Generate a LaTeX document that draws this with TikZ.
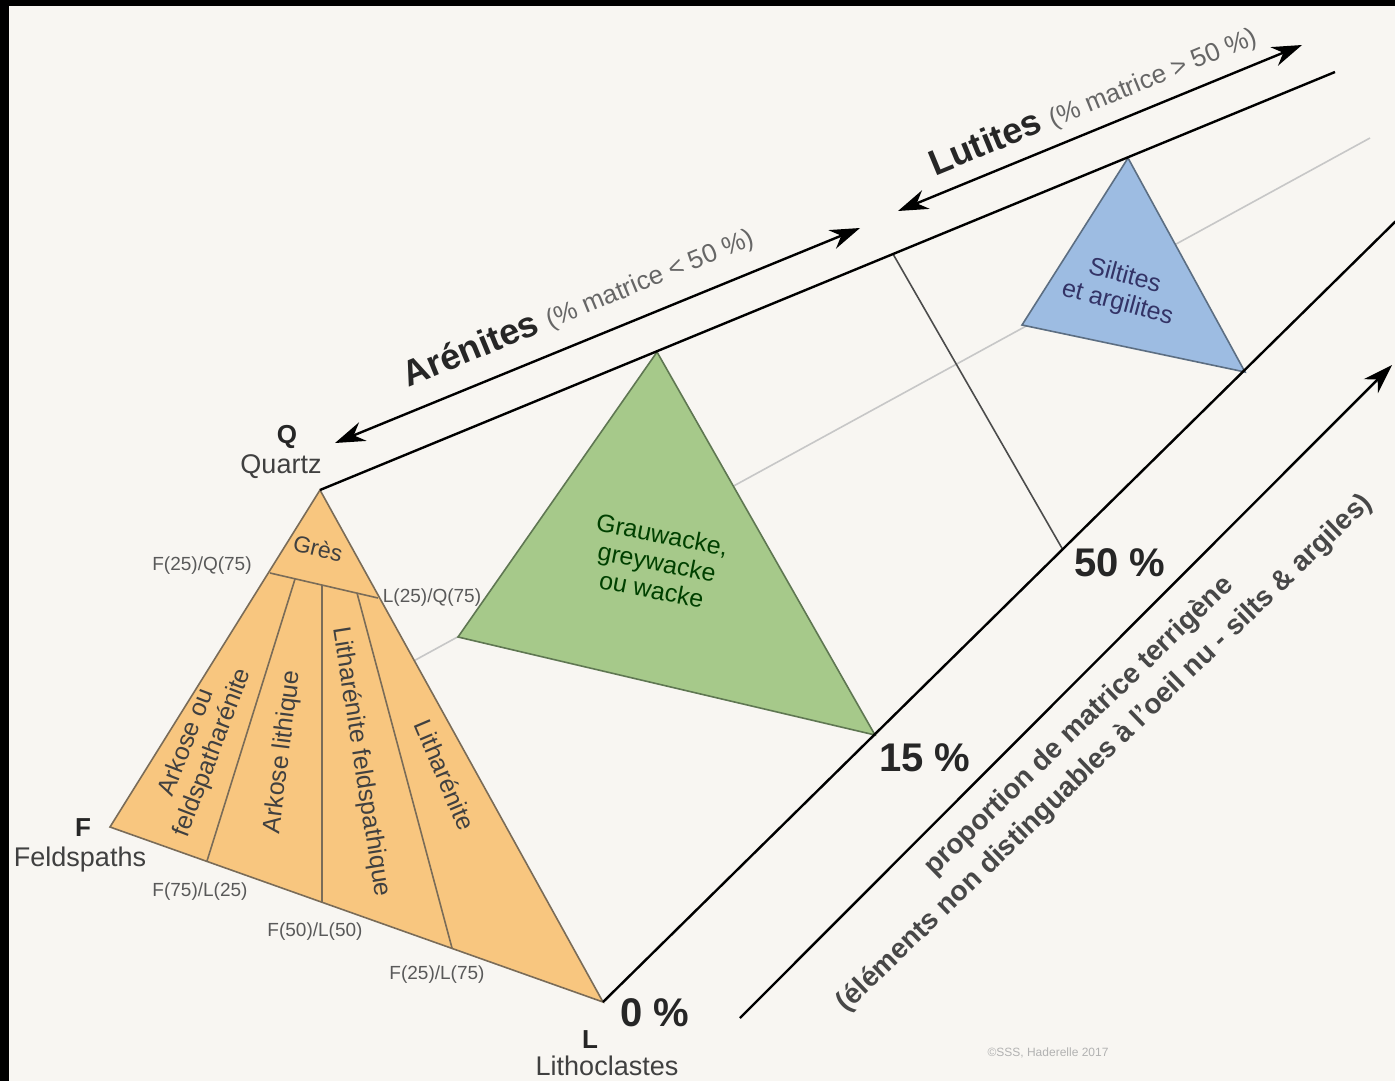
\documentclass[tikz,border=0pt]{standalone}
\usepackage{fontspec}
\setmainfont{Liberation Sans}
\usetikzlibrary{arrows.meta}
\definecolor{fond}{HTML}{F8F6F2}
\definecolor{qfl}{HTML}{F8C67F}
\definecolor{grau}{HTML}{A6C98A}
\definecolor{silt}{HTML}{9DBCE2}
\definecolor{bordqfl}{HTML}{7A6C58}
\definecolor{bordgrau}{HTML}{5F7752}
\definecolor{bordsilt}{HTML}{5C6E82}
\tikzset{ratio/.style = {font=\fontsize{9.5}{11}\selectfont, text=black!65},
         champ/.style = {font=\fontsize{12.5}{14}\selectfont, text=black!75, align=center},
         pct/.style   = {font=\fontsize{20}{22}\selectfont\bfseries, text=black!85},
         pole/.style  = {font=\fontsize{13}{14}\selectfont\bfseries, text=black!85},
         nompole/.style = {font=\fontsize{13.5}{15}\selectfont, text=black!75},
         cache/.style = {thick, draw=black!22}}

\begin{document}
\begin{tikzpicture}[x=0.5pt,y=-0.5pt,>={Stealth[length=15pt,width=10pt]}]
        \fill[fond](0,0)rectangle(1395,1081);
        \useasboundingbox(0,0)rectangle(1395,1081);
        \fill[black](0,0)rectangle(1395,6);
        \fill[black](0,0)rectangle(9,1081);

        % sommets du prisme
        \coordinate(Q)at(320,490);
        \coordinate(F)at(110,827);
        \coordinate(L)at(603,1002);
        \coordinate(Qf)at(1335,72);
        \coordinate(Ff)at(1370,138);
        \coordinate(Lf)at(1400,217);
        \coordinate(Q50)at(893,254);
        \coordinate(L50)at(1063,550);

        \draw[cache](F)--(Ff);
        \draw[thick,black!70](Q50)--(L50);

        % triangle QFL
        \filldraw[fill=qfl,draw=bordqfl,thick](Q)--(F)--(L)--cycle;
        \coordinate(gF)at(270,573);
        \coordinate(gL)at(378,598);
        \coordinate(b1)at(207,861);
        \coordinate(b2)at(322,902);
        \coordinate(b3)at(452,948);
        \coordinate(h1)at(295,579);
        \coordinate(h2)at(322,585);
        \coordinate(h3)at(357,593);
        \draw[bordqfl,thick](gF)--(gL);
        \draw[bordqfl,thick](b1)--(h1);
        \draw[bordqfl,thick](b2)--(h2);
        \draw[bordqfl,thick](b3)--(h3);

        % triangles 15 % et 50 %
        \coordinate(gQ)at(657,352);
        \coordinate(gFF)at(458,637);
        \coordinate(gLL)at(875,735);
        \filldraw[fill=grau,draw=bordgrau,thick](gQ)--(gFF)--(gLL)--cycle;
        \coordinate(sQ)at(1128,158);
        \coordinate(sF)at(1022,325);
        \coordinate(sL)at(1245,372);
        \filldraw[fill=silt,draw=bordsilt,thick](sQ)--(sF)--(sL)--cycle;

        \draw[very thick](Q)--(Qf);
        \draw[very thick](L)--(Lf);

        % fleches
        \coordinate(aA)at(335,443);
        \coordinate(aB)at(860,228);
        \coordinate(lA)at(898,211);
        \coordinate(lB)at(1302,45);
        \coordinate(pA)at(740,1018);
        \coordinate(pB)at(1392,365);
        \draw[<->,very thick](aA)--(aB);
        \draw[<->,very thick](lA)--(lB);
        \draw[->,very thick](pA)--(pB);

        \node[rotate=22.4](tAre)at(578,306){\fontsize{18}{20}\selectfont\bfseries\color{black!85}Arénites {\fontsize{13}{15}\selectfont\mdseries\color{black!60}(\% matrice < 50 \%)}};
        \node[rotate=22.4](tLut)at(1093,100){\fontsize{18}{20}\selectfont\bfseries\color{black!85}Lutites {\fontsize{13}{15}\selectfont\mdseries\color{black!60}(\% matrice > 50 \%)}};

        \node[pole](nQ)at(287,437){Q};
        \node[nompole](nQuartz)at(281,467){Quartz};
        \node[pole](nF)at(83,828){F};
        \node[nompole](nFeld)at(80,860){Feldspaths};
        \node[pole](nL)at(590,1040){L};
        \node[nompole](nLitho)at(607,1066){Lithoclastes};

        \node[pct](p0)at(655,1013){0 \%};
        \node[pct](p15)at(925,758){15 \%};
        \node[pct](p50)at(1120,563){50 \%};

        \node[ratio](rFQ)at(202,566){F(25)/Q(75)};
        \node[ratio](rLQ)at(432,598){L(25)/Q(75)};
        \node[ratio](rF75)at(200,892){F(75)/L(25)};
        \node[ratio](rF50)at(315,932){F(50)/L(50)};
        \node[ratio](rF25)at(437,975){F(25)/L(75)};

        \node[champ,rotate=-14](cGres)at(318,548){\fontsize{11.5}{13}\selectfont Grès};
        \node[champ,rotate=69](cArk)at(200,748){Arkose ou\\feldspatharénite};
        \node[champ,rotate=83](cArkL)at(283,752){Arkose lithique};
        \node[champ,rotate=-81](cLitF)at(361,762){Litharénite feldspathique};
        \node[champ,rotate=-67](cLit)at(445,775){Litharénite};

        \node[champ,rotate=-11,text=green!25!black](cGrau)at(657,562){Grauwacke,\\greywacke\\ou wacke};
        \node[champ,rotate=-15,text=blue!25!black!80](cSilt)at(1121,290){Siltites\\et argilites};

        \node[rotate=44,align=center,font=\fontsize{14}{18.5}\selectfont\bfseries,text=black!72](tProp)at(1092,740){proportion de matrice terrigène\\(éléments non distinguables à l'oeil nu - silts \& argiles)};

        \node[font=\fontsize{6}{7}\selectfont,text=black!30](tCopy)at(1048,1053){©SSS, Haderelle 2017};
\end{tikzpicture}
\end{document}
